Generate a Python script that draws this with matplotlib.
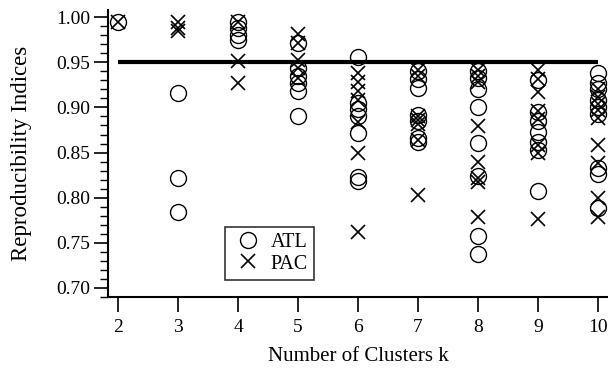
import matplotlib
matplotlib.use("Agg")
import matplotlib.pyplot as plt
from matplotlib.ticker import MultipleLocator, FormatStrFormatter

# Number of clusters evaluated
ks = [2, 3, 4, 5, 6, 7, 8, 9, 10]

# Reproducibility indices per k, Atlantic (ATL) runs
atl_scores = [
    [0.995],
    [0.916, 0.822, 0.784],
    [0.995, 0.988, 0.980, 0.975],
    [0.971, 0.944, 0.935, 0.927, 0.918, 0.890],
    [0.956, 0.905, 0.898, 0.890, 0.872, 0.823, 0.818],
    [0.940, 0.932, 0.922, 0.892, 0.885, 0.866, 0.862],
    [0.940, 0.933, 0.920, 0.900, 0.861, 0.824, 0.757, 0.737],
    [0.930, 0.895, 0.885, 0.873, 0.862, 0.853, 0.807],
    [0.938, 0.927, 0.920, 0.908, 0.900, 0.893, 0.833, 0.826, 0.789],
]

# Reproducibility indices per k, Pacific (PAC) runs
pac_scores = [
    [0.995],
    [0.995, 0.988, 0.985],
    [0.995, 0.952, 0.927],
    [0.981, 0.972, 0.953, 0.944, 0.933],
    [0.938, 0.928, 0.918, 0.908, 0.884, 0.849, 0.762],
    [0.942, 0.935, 0.890, 0.886, 0.882, 0.864, 0.803],
    [0.942, 0.935, 0.928, 0.879, 0.839, 0.822, 0.817, 0.778],
    [0.942, 0.931, 0.917, 0.896, 0.887, 0.858, 0.850, 0.776],
    [0.920, 0.912, 0.904, 0.897, 0.888, 0.858, 0.838, 0.800, 0.779],
]

threshold = 0.95

plt.rcParams["font.family"] = ["Liberation Serif", "DejaVu Serif"]
plt.rcParams["mathtext.fontset"] = "stix"

fig = plt.figure(figsize=(6.08, 3.72), dpi=100)
ax = fig.add_axes([0.178, 0.202, 0.822, 0.771])

for k, vals in zip(ks, atl_scores):
    ax.plot([k] * len(vals), vals, linestyle="none", marker="o", markersize=11.5,
            markerfacecolor="none", markeredgecolor="black", markeredgewidth=1.0,
            label="ATL" if k == ks[0] else None, clip_on=False, zorder=3)
for k, vals in zip(ks, pac_scores):
    ax.plot([k] * len(vals), vals, linestyle="none", marker="x", markersize=10,
            color="black", markeredgewidth=1.2,
            label="PAC" if k == ks[0] else None, clip_on=False, zorder=3)

ax.plot([ks[0], ks[-1]], [threshold, threshold], color="black", linewidth=3.0,
        solid_capstyle="butt", zorder=2)

ax.set_xlim(1.833, 10.167)
ax.set_ylim(0.69, 1.008)
ax.set_xticks(ks)
ax.yaxis.set_major_locator(MultipleLocator(0.05))
ax.yaxis.set_minor_locator(MultipleLocator(0.01))
ax.yaxis.set_major_formatter(FormatStrFormatter("%.2f"))

for side in ("top", "right"):
    ax.spines[side].set_visible(False)
for side in ("left", "bottom"):
    ax.spines[side].set_linewidth(1.5)

ax.tick_params(axis="y", which="major", direction="out", length=10, width=1.2,
               labelsize=14, pad=3)
ax.tick_params(axis="y", which="minor", direction="out", length=6, width=1.0)
ax.tick_params(axis="x", which="major", direction="out", length=11, width=1.2,
               labelsize=14, pad=5)

ax.set_xlabel("Number of Clusters k", fontsize=15, labelpad=8)
ax.set_ylabel("Reproducibility Indices", fontsize=16.5, labelpad=17)

leg = ax.legend(loc="upper left", bbox_to_anchor=(0.234, 0.244), frameon=True,
                fancybox=False, edgecolor="black", fontsize=14.5, handletextpad=0.25,
                handlelength=1.7, borderpad=0.3, labelspacing=0.12,
                borderaxespad=0)
leg.get_frame().set_linewidth(1.2)

fig.savefig("out.png", dpi=100)
